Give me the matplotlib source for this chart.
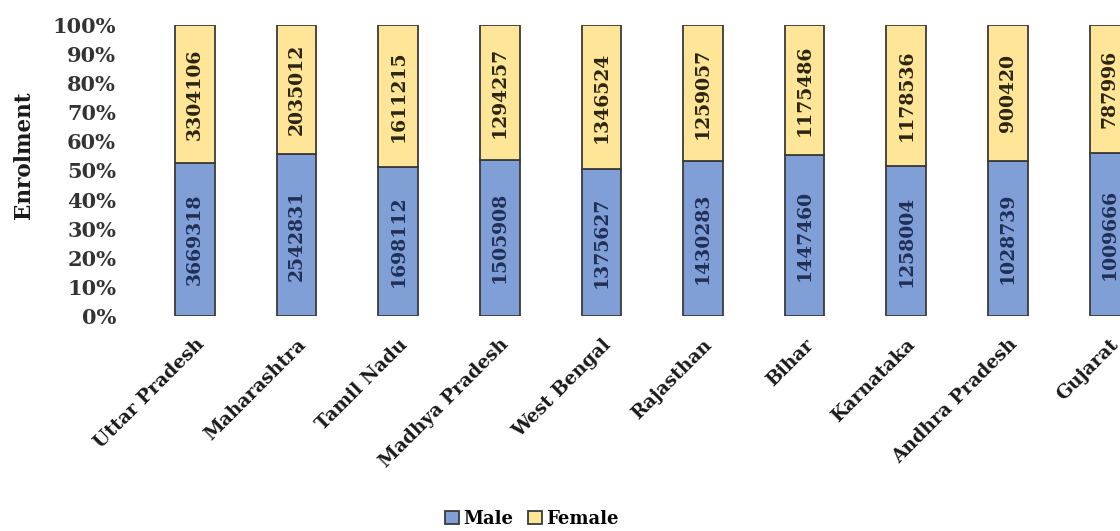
import matplotlib
matplotlib.use("Agg")
import matplotlib.pyplot as plt
import numpy as np

states = ["Uttar Pradesh", "Maharashtra", "Tamil Nadu", "Madhya Pradesh", "West Bengal",
          "Rajasthan", "Bihar", "Karnataka", "Andhra Pradesh", "Gujarat"]
male = [3669318, 2542831, 1698112, 1505908, 1375627, 1430283, 1447460, 1258004, 1028739, 1009666]
female = [3304106, 2035012, 1611215, 1294257, 1346524, 1259057, 1175486, 1178536, 900420, 787996]
yticks = [0, 10, 20, 30, 40, 50, 60, 70, 80, 90, 100]

plt.rcParams['font.family'] = ['DejaVu Serif']
plt.rcParams['font.weight'] = 'bold'

male_c = "#819FD7"
female_c = "#FEE597"
edge_c = "#3A3A3A"

fig = plt.figure(figsize=(11.2, 5.31), dpi=100)
ax = fig.add_axes([130/1120, (531-316)/531, 990/1120, 291/531])

x = np.arange(len(states))
m = np.array(male, dtype=float)
f = np.array(female, dtype=float)
tot = m + f
mp = m / tot
fp = f / tot
w = 0.39
b1 = ax.bar(x, mp, width=w, color=male_c, edgecolor=edge_c, linewidth=1.3, label="Male")
b2 = ax.bar(x, fp, width=w, bottom=mp, color=female_c, edgecolor=edge_c, linewidth=1.3, label="Female")

for i in range(len(states)):
    ax.text(x[i], mp[i] / 2, str(male[i]), rotation=90, ha='center', va='center',
            fontsize=13.5, color="#1F2F55", fontweight='bold')
    ax.text(x[i], mp[i] + fp[i] / 2, str(female[i]), rotation=90, ha='center', va='center',
            fontsize=13.5, color="#2B2410", fontweight='bold')

ax.set_xlim((130-195)/101.6, (1120-195)/101.6)
ax.set_ylim(0, 1)
ax.set_yticks([t/100 for t in yticks])
ax.set_yticklabels([f"{t}%" for t in yticks], fontsize=15, fontweight='bold', color="#333333")
ax.set_xticks(x)
ax.set_xticklabels(states, rotation=45, ha='right', rotation_mode='anchor',
                   fontsize=13.5, fontweight='bold', color="#1A1A1A")
ax.tick_params(axis='both', length=0)
ax.tick_params(axis='y', pad=10)
ax.tick_params(axis='x', pad=14)
for s in ax.spines.values():
    s.set_visible(False)
ax.set_ylabel("Enrolment", fontsize=15.5, fontweight='bold', color="#1A1A1A")
ax.yaxis.set_label_coords(-0.096, 0.553)

fig.legend(handles=[b1, b2], labels=["Male", "Female"], loc='center',
           bbox_to_anchor=(532/1120, 1-519/531), ncol=2, frameon=False,
           handlelength=0.75, handleheight=0.75, handletextpad=0.25,
           columnspacing=0.8, prop={'weight': 'bold', 'size': 13})

fig.savefig("out.png", dpi=100)
